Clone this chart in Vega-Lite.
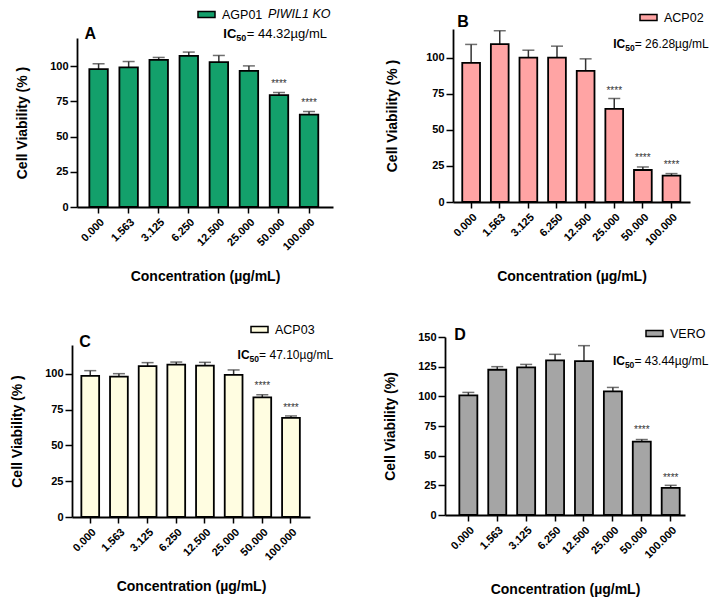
{
  "$schema": "https://vega.github.io/schema/vega-lite/v6.json",
  "background": "white",
  "padding": {"left": 10, "top": 5, "right": 5, "bottom": 5},
  "config": {
    "font": "Liberation Sans",
    "view": {"stroke": null},
    "axis": {"grid": false, "domainColor": "black", "domainWidth": 1.8, "tickColor": "black", "tickWidth": 1.5,
      "labelFont": "Liberation Sans", "labelFontWeight": "bold", "labelFontSize": 11, "labelColor": "black", "labelOverlap": false,
      "titleFont": "Liberation Sans", "titleFontWeight": "bold", "titleFontSize": 14, "titleColor": "black"},
    "axisX": {"labelAngle": -45, "tickSize": 6, "labelPadding": 3, "titlePadding": 18},
    "axisY": {"tickSize": 7, "labelPadding": 2, "titlePadding": 20, "tickCount": 10},
    "legend": {"labelFont": "Liberation Sans", "labelFontSize": 12.5, "labelColor": "black", "padding": 0,
      "symbolStrokeColor": "black", "symbolStrokeWidth": 1.5, "symbolType": "M-1,-0.35H1V0.35H-1Z", "symbolSize": 289, "labelOffset": 6}
  },
  "resolve": {"scale": {"fill": "independent", "x": "independent", "y": "independent"}, "legend": {"fill": "independent"}, "axis": {"x": "independent", "y": "independent"}},
  "datasets": {
    "bars": [
      {"panel": "A", "cell": "AGP01", "conc": "0.000", "mean": 97.9, "upper": 101.7},
      {"panel": "A", "cell": "AGP01", "conc": "1.563", "mean": 99.1, "upper": 103.3},
      {"panel": "A", "cell": "AGP01", "conc": "3.125", "mean": 104.5, "upper": 106.2},
      {"panel": "A", "cell": "AGP01", "conc": "6.250", "mean": 107.3, "upper": 110.0},
      {"panel": "A", "cell": "AGP01", "conc": "12.500", "mean": 102.8, "upper": 107.6},
      {"panel": "A", "cell": "AGP01", "conc": "25.000", "mean": 96.7, "upper": 100.2},
      {"panel": "A", "cell": "AGP01", "conc": "50.000", "mean": 79.4, "upper": 81.3},
      {"panel": "A", "cell": "AGP01", "conc": "100.000", "mean": 65.6, "upper": 67.8},
      {"panel": "B", "cell": "ACP02", "conc": "0.000", "mean": 96.5, "upper": 109.3},
      {"panel": "B", "cell": "ACP02", "conc": "1.563", "mean": 109.5, "upper": 118.8},
      {"panel": "B", "cell": "ACP02", "conc": "3.125", "mean": 100.2, "upper": 105.3},
      {"panel": "B", "cell": "ACP02", "conc": "6.250", "mean": 100.2, "upper": 108.1},
      {"panel": "B", "cell": "ACP02", "conc": "12.500", "mean": 91.0, "upper": 99.3},
      {"panel": "B", "cell": "ACP02", "conc": "25.000", "mean": 64.6, "upper": 71.8},
      {"panel": "B", "cell": "ACP02", "conc": "50.000", "mean": 22.2, "upper": 24.3},
      {"panel": "B", "cell": "ACP02", "conc": "100.000", "mean": 18.3, "upper": 19.7},
      {"panel": "C", "cell": "ACP03", "conc": "0.000", "mean": 98.4, "upper": 102.1},
      {"panel": "C", "cell": "ACP03", "conc": "1.563", "mean": 97.9, "upper": 100.0},
      {"panel": "C", "cell": "ACP03", "conc": "3.125", "mean": 105.3, "upper": 107.7},
      {"panel": "C", "cell": "ACP03", "conc": "6.250", "mean": 106.3, "upper": 108.1},
      {"panel": "C", "cell": "ACP03", "conc": "12.500", "mean": 105.6, "upper": 107.9},
      {"panel": "C", "cell": "ACP03", "conc": "25.000", "mean": 99.1, "upper": 102.6},
      {"panel": "C", "cell": "ACP03", "conc": "50.000", "mean": 83.5, "upper": 85.3},
      {"panel": "C", "cell": "ACP03", "conc": "100.000", "mean": 69.1, "upper": 70.5},
      {"panel": "D", "cell": "VERO", "conc": "0.000", "mean": 100.8, "upper": 103.3},
      {"panel": "D", "cell": "VERO", "conc": "1.563", "mean": 122.4, "upper": 125.0},
      {"panel": "D", "cell": "VERO", "conc": "3.125", "mean": 124.4, "upper": 126.9},
      {"panel": "D", "cell": "VERO", "conc": "6.250", "mean": 130.3, "upper": 135.4},
      {"panel": "D", "cell": "VERO", "conc": "12.500", "mean": 129.7, "upper": 142.7},
      {"panel": "D", "cell": "VERO", "conc": "25.000", "mean": 104.1, "upper": 107.5},
      {"panel": "D", "cell": "VERO", "conc": "50.000", "mean": 61.9, "upper": 63.6},
      {"panel": "D", "cell": "VERO", "conc": "100.000", "mean": 22.8, "upper": 25.0}
    ],
    "ann": [
      {"panel": "A", "kind": "stars", "conc": "50.000", "y": 84.9, "text": "****"},
      {"panel": "A", "kind": "stars", "conc": "100.000", "y": 71.4, "text": "****"},
      {"panel": "B", "kind": "stars", "conc": "25.000", "y": 74.7, "text": "****"},
      {"panel": "B", "kind": "stars", "conc": "50.000", "y": 28.4, "text": "****"},
      {"panel": "B", "kind": "stars", "conc": "100.000", "y": 23.8, "text": "****"},
      {"panel": "C", "kind": "stars", "conc": "50.000", "y": 89.5, "text": "****"},
      {"panel": "C", "kind": "stars", "conc": "100.000", "y": 73.9, "text": "****"},
      {"panel": "D", "kind": "stars", "conc": "50.000", "y": 68.7, "text": "****"},
      {"panel": "D", "kind": "stars", "conc": "100.000", "y": 29.0, "text": "****"},
      {"panel": "A", "kind": "letter", "conc": "0.000", "y": 119.2, "text": "A"},
      {"panel": "B", "kind": "letter", "conc": "0.000", "y": 121.5, "text": "B"},
      {"panel": "C", "kind": "letter", "conc": "0.000", "y": 118.5, "text": "C"},
      {"panel": "D", "kind": "letter", "conc": "0.000", "y": 147.2, "text": "D"},
      {"panel": "A", "kind": "ic", "conc": "12.500", "y": 120, "text": "IC"},
      {"panel": "A", "kind": "sub", "conc": "12.500", "y": 120, "text": "50"},
      {"panel": "A", "kind": "rest", "conc": "12.500", "y": 120, "text": "= 44.32µg/mL"},
      {"panel": "B", "kind": "ic", "conc": "25.000", "y": 106.5, "text": "IC"},
      {"panel": "B", "kind": "sub", "conc": "25.000", "y": 106.5, "text": "50"},
      {"panel": "B", "kind": "rest", "conc": "25.000", "y": 106.5, "text": "= 26.28µg/mL"},
      {"panel": "C", "kind": "ic", "conc": "25.000", "y": 110.5, "text": "IC"},
      {"panel": "C", "kind": "sub", "conc": "25.000", "y": 110.5, "text": "50"},
      {"panel": "C", "kind": "rest", "conc": "25.000", "y": 110.5, "text": "= 47.10µg/mL"},
      {"panel": "D", "kind": "ic", "conc": "25.000", "y": 126.1, "text": "IC"},
      {"panel": "D", "kind": "sub", "conc": "25.000", "y": 126.1, "text": "50"},
      {"panel": "D", "kind": "rest", "conc": "25.000", "y": 126.1, "text": "= 43.44µg/mL"},
      {"panel": "A", "kind": "italic", "conc": "50.000", "y": 137, "text": "PIWIL1 KO"}
    ]
  },
  "columns": 2,
  "align": "each",
  "spacing": {"row": 36, "column": 49},
  "concat": [
    {
      "width": 261, "height": 178,
      "encoding": {"x": {"field": "conc", "type": "nominal", "sort": null,
        "scale": {"domain": ["0.000","1.563","3.125","6.250","12.500","25.000","50.000","100.000"], "range": [5, 261], "paddingInner": 0.385, "paddingOuter": 0.45, "align": 0.456},
        "axis": {"title": "Concentration (µg/mL)"}}},
      "layer": [
        {"data": {"name": "bars"}, "transform": [{"filter": "datum.panel === 'A'"}],
         "mark": {"type": "rule", "color": "#333333", "strokeWidth": 1.5},
         "encoding": {"y": {"field": "mean", "type": "quantitative",
            "scale": {"domain": [0, 120], "range": [178, 9], "nice": false},
            "axis": {"title": "Cell Viability (% )", "values": [0, 25, 50, 75, 100], "offset": -5}},
           "y2": {"field": "upper"}}},
        {"data": {"name": "bars"}, "transform": [{"filter": "datum.panel === 'A'"}],
         "mark": {"type": "bar", "stroke": "black", "strokeWidth": 1.8},
         "encoding": {"y": {"field": "mean", "type": "quantitative"},
           "fill": {"field": "cell", "type": "nominal", "scale": {"range": ["#13a06b"]},
             "legend": {"title": null, "orient": "none", "legendX": 125, "legendY": -24}}}},
        {"data": {"name": "bars"}, "transform": [{"filter": "datum.panel === 'A'"}],
         "mark": {"type": "tick", "color": "#333333", "thickness": 1.5, "size": 12},
         "encoding": {"y": {"field": "upper", "type": "quantitative"}}},
        {"data": {"name": "ann"}, "transform": [{"filter": "datum.panel === 'A' && datum.kind === 'stars'"}],
         "mark": {"type": "text", "fontSize": 10, "color": "#333333", "baseline": "alphabetic"},
         "encoding": {"y": {"field": "y", "type": "quantitative"}, "text": {"field": "text"}}},
        {"data": {"name": "ann"}, "transform": [{"filter": "datum.panel === 'A' && datum.kind === 'letter'"}],
         "mark": {"type": "text", "fontSize": 16, "fontWeight": "bold", "color": "black", "align": "left", "baseline": "alphabetic", "dx": -14},
         "encoding": {"y": {"field": "y", "type": "quantitative"}, "text": {"field": "text"}}},
        {"data": {"name": "ann"}, "transform": [{"filter": "datum.panel === 'A' && datum.kind === 'ic'"}],
         "mark": {"type": "text", "fontSize": 13, "fontWeight": "bold", "color": "black", "align": "left", "baseline": "alphabetic", "dx": 4.5},
         "encoding": {"y": {"field": "y", "type": "quantitative"}, "text": {"field": "text"}}},
        {"data": {"name": "ann"}, "transform": [{"filter": "datum.panel === 'A' && datum.kind === 'sub'"}],
         "mark": {"type": "text", "fontSize": 9, "fontWeight": "bold", "color": "black", "align": "left", "baseline": "alphabetic", "dx": 17.5, "dy": 3},
         "encoding": {"y": {"field": "y", "type": "quantitative"}, "text": {"field": "text"}}},
        {"data": {"name": "ann"}, "transform": [{"filter": "datum.panel === 'A' && datum.kind === 'rest'"}],
         "mark": {"type": "text", "fontSize": 13, "color": "black", "align": "left", "baseline": "alphabetic", "dx": 28},
         "encoding": {"y": {"field": "y", "type": "quantitative"}, "text": {"field": "text"}}},
        {"data": {"name": "ann"}, "transform": [{"filter": "datum.panel === 'A' && datum.kind === 'italic'"}],
         "mark": {"type": "text", "fontSize": 12.5, "fontStyle": "italic", "color": "black", "align": "left", "baseline": "middle", "dx": -11},
         "encoding": {"y": {"field": "y", "type": "quantitative"}, "text": {"field": "text"}}}
      ]
    },
    {
      "width": 245, "height": 173,
      "encoding": {"x": {"field": "conc", "type": "nominal", "sort": null,
        "scale": {"domain": ["0.000","1.563","3.125","6.250","12.500","25.000","50.000","100.000"], "range": [8, 245], "paddingInner": 0.38, "paddingOuter": 0.33, "align": 0.49},
        "axis": {"title": "Concentration (µg/mL)", "titlePadding": 23}}},
      "layer": [
        {"data": {"name": "bars"}, "transform": [{"filter": "datum.panel === 'B'"}],
         "mark": {"type": "rule", "color": "#333333", "strokeWidth": 1.5},
         "encoding": {"y": {"field": "mean", "type": "quantitative",
            "scale": {"domain": [0, 120], "nice": false},
            "axis": {"title": "Cell Viability (% )", "values": [0, 25, 50, 75, 100], "offset": -8, "titlePadding": 26}},
           "y2": {"field": "upper"}}},
        {"data": {"name": "bars"}, "transform": [{"filter": "datum.panel === 'B'"}],
         "mark": {"type": "bar", "stroke": "black", "strokeWidth": 1.8},
         "encoding": {"y": {"field": "mean", "type": "quantitative"},
           "fill": {"field": "cell", "type": "nominal", "scale": {"range": ["#ffa4a4"]},
             "legend": {"title": null, "orient": "none", "legendX": 194, "legendY": -21}}}},
        {"data": {"name": "bars"}, "transform": [{"filter": "datum.panel === 'B'"}],
         "mark": {"type": "tick", "color": "#333333", "thickness": 1.5, "size": 12},
         "encoding": {"y": {"field": "upper", "type": "quantitative"}}},
        {"data": {"name": "ann"}, "transform": [{"filter": "datum.panel === 'B' && datum.kind === 'stars'"}],
         "mark": {"type": "text", "fontSize": 10, "color": "#333333", "baseline": "alphabetic"},
         "encoding": {"y": {"field": "y", "type": "quantitative"}, "text": {"field": "text"}}},
        {"data": {"name": "ann"}, "transform": [{"filter": "datum.panel === 'B' && datum.kind === 'letter'"}],
         "mark": {"type": "text", "fontSize": 16, "fontWeight": "bold", "color": "black", "align": "left", "baseline": "alphabetic", "dx": -14},
         "encoding": {"y": {"field": "y", "type": "quantitative"}, "text": {"field": "text"}}},
        {"data": {"name": "ann"}, "transform": [{"filter": "datum.panel === 'B' && datum.kind === 'ic'"}],
         "mark": {"type": "text", "fontSize": 12, "fontWeight": "bold", "color": "black", "align": "left", "baseline": "alphabetic", "dx": -1},
         "encoding": {"y": {"field": "y", "type": "quantitative"}, "text": {"field": "text"}}},
        {"data": {"name": "ann"}, "transform": [{"filter": "datum.panel === 'B' && datum.kind === 'sub'"}],
         "mark": {"type": "text", "fontSize": 8.5, "fontWeight": "bold", "color": "black", "align": "left", "baseline": "alphabetic", "dx": 11, "dy": 3},
         "encoding": {"y": {"field": "y", "type": "quantitative"}, "text": {"field": "text"}}},
        {"data": {"name": "ann"}, "transform": [{"filter": "datum.panel === 'B' && datum.kind === 'rest'"}],
         "mark": {"type": "text", "fontSize": 12, "color": "black", "align": "left", "baseline": "alphabetic", "dx": 20.5},
         "encoding": {"y": {"field": "y", "type": "quantitative"}, "text": {"field": "text"}}}
      ]
    },
    {
      "width": 238, "height": 180,
      "encoding": {"x": {"field": "conc", "type": "nominal", "sort": null,
        "scale": {"domain": ["0.000","1.563","3.125","6.250","12.500","25.000","50.000","100.000"], "paddingInner": 0.38, "paddingOuter": 0.34, "align": 0.48},
        "axis": {"title": "Concentration (µg/mL)"}}},
      "layer": [
        {"data": {"name": "bars"}, "transform": [{"filter": "datum.panel === 'C'"}],
         "mark": {"type": "rule", "color": "#333333", "strokeWidth": 1.5},
         "encoding": {"y": {"field": "mean", "type": "quantitative",
            "scale": {"domain": [0, 120], "range": [180, 8], "nice": false},
            "axis": {"title": "Cell Viability (% )", "values": [0, 25, 50, 75, 100]}},
           "y2": {"field": "upper"}}},
        {"data": {"name": "bars"}, "transform": [{"filter": "datum.panel === 'C'"}],
         "mark": {"type": "bar", "stroke": "black", "strokeWidth": 1.8},
         "encoding": {"y": {"field": "mean", "type": "quantitative"},
           "fill": {"field": "cell", "type": "nominal", "scale": {"range": ["#fffde1"]},
             "legend": {"title": null, "orient": "none", "legendX": 178, "legendY": -17}}}},
        {"data": {"name": "bars"}, "transform": [{"filter": "datum.panel === 'C'"}],
         "mark": {"type": "tick", "color": "#333333", "thickness": 1.5, "size": 12},
         "encoding": {"y": {"field": "upper", "type": "quantitative"}}},
        {"data": {"name": "ann"}, "transform": [{"filter": "datum.panel === 'C' && datum.kind === 'stars'"}],
         "mark": {"type": "text", "fontSize": 10, "color": "#333333", "baseline": "alphabetic"},
         "encoding": {"y": {"field": "y", "type": "quantitative"}, "text": {"field": "text"}}},
        {"data": {"name": "ann"}, "transform": [{"filter": "datum.panel === 'C' && datum.kind === 'letter'"}],
         "mark": {"type": "text", "fontSize": 16, "fontWeight": "bold", "color": "black", "align": "left", "baseline": "alphabetic", "dx": -11},
         "encoding": {"y": {"field": "y", "type": "quantitative"}, "text": {"field": "text"}}},
        {"data": {"name": "ann"}, "transform": [{"filter": "datum.panel === 'C' && datum.kind === 'ic'"}],
         "mark": {"type": "text", "fontSize": 12, "fontWeight": "bold", "color": "black", "align": "left", "baseline": "alphabetic", "dx": 4},
         "encoding": {"y": {"field": "y", "type": "quantitative"}, "text": {"field": "text"}}},
        {"data": {"name": "ann"}, "transform": [{"filter": "datum.panel === 'C' && datum.kind === 'sub'"}],
         "mark": {"type": "text", "fontSize": 8.5, "fontWeight": "bold", "color": "black", "align": "left", "baseline": "alphabetic", "dx": 16, "dy": 3},
         "encoding": {"y": {"field": "y", "type": "quantitative"}, "text": {"field": "text"}}},
        {"data": {"name": "ann"}, "transform": [{"filter": "datum.panel === 'C' && datum.kind === 'rest'"}],
         "mark": {"type": "text", "fontSize": 12, "color": "black", "align": "left", "baseline": "alphabetic", "dx": 25.5},
         "encoding": {"y": {"field": "y", "type": "quantitative"}, "text": {"field": "text"}}}
      ]
    },
    {
      "width": 240, "height": 178,
      "encoding": {"x": {"field": "conc", "type": "nominal", "sort": null,
        "scale": {"domain": ["0.000","1.563","3.125","6.250","12.500","25.000","50.000","100.000"], "paddingInner": 0.377, "paddingOuter": 0.34, "align": 0.73},
        "axis": {"title": "Concentration (µg/mL)", "titlePadding": 23}}},
      "layer": [
        {"data": {"name": "bars"}, "transform": [{"filter": "datum.panel === 'D'"}],
         "mark": {"type": "rule", "color": "#333333", "strokeWidth": 1.5},
         "encoding": {"y": {"field": "mean", "type": "quantitative",
            "scale": {"domain": [0, 150], "nice": false},
            "axis": {"title": "Cell Viability (%)", "values": [0, 25, 50, 75, 100, 125, 150]}},
           "y2": {"field": "upper"}}},
        {"data": {"name": "bars"}, "transform": [{"filter": "datum.panel === 'D'"}],
         "mark": {"type": "bar", "stroke": "black", "strokeWidth": 1.8},
         "encoding": {"y": {"field": "mean", "type": "quantitative"},
           "fill": {"field": "cell", "type": "nominal", "scale": {"range": ["#a5a5a5"]},
             "legend": {"title": null, "orient": "none", "legendX": 200, "legendY": -13}}}},
        {"data": {"name": "bars"}, "transform": [{"filter": "datum.panel === 'D'"}],
         "mark": {"type": "tick", "color": "#333333", "thickness": 1.5, "size": 12},
         "encoding": {"y": {"field": "upper", "type": "quantitative"}}},
        {"data": {"name": "ann"}, "transform": [{"filter": "datum.panel === 'D' && datum.kind === 'stars'"}],
         "mark": {"type": "text", "fontSize": 10, "color": "#333333", "baseline": "alphabetic"},
         "encoding": {"y": {"field": "y", "type": "quantitative"}, "text": {"field": "text"}}},
        {"data": {"name": "ann"}, "transform": [{"filter": "datum.panel === 'D' && datum.kind === 'letter'"}],
         "mark": {"type": "text", "fontSize": 16, "fontWeight": "bold", "color": "black", "align": "left", "baseline": "alphabetic", "dx": -14},
         "encoding": {"y": {"field": "y", "type": "quantitative"}, "text": {"field": "text"}}},
        {"data": {"name": "ann"}, "transform": [{"filter": "datum.panel === 'D' && datum.kind === 'ic'"}],
         "mark": {"type": "text", "fontSize": 12, "fontWeight": "bold", "color": "black", "align": "left", "baseline": "alphabetic", "dx": 0},
         "encoding": {"y": {"field": "y", "type": "quantitative"}, "text": {"field": "text"}}},
        {"data": {"name": "ann"}, "transform": [{"filter": "datum.panel === 'D' && datum.kind === 'sub'"}],
         "mark": {"type": "text", "fontSize": 8.5, "fontWeight": "bold", "color": "black", "align": "left", "baseline": "alphabetic", "dx": 12, "dy": 3},
         "encoding": {"y": {"field": "y", "type": "quantitative"}, "text": {"field": "text"}}},
        {"data": {"name": "ann"}, "transform": [{"filter": "datum.panel === 'D' && datum.kind === 'rest'"}],
         "mark": {"type": "text", "fontSize": 12, "color": "black", "align": "left", "baseline": "alphabetic", "dx": 21.5},
         "encoding": {"y": {"field": "y", "type": "quantitative"}, "text": {"field": "text"}}}
      ]
    }
  ]
}
